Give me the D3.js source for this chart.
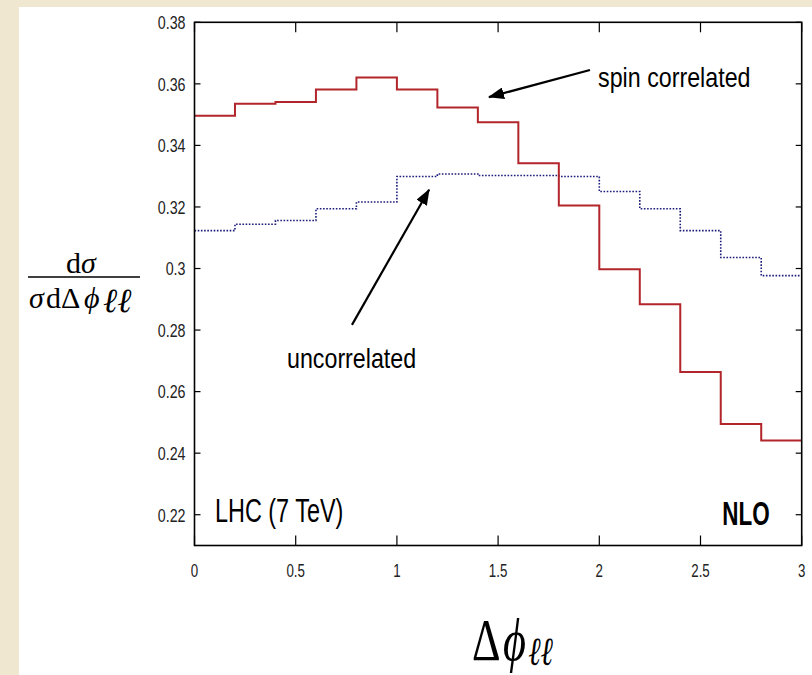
<!DOCTYPE html>
<html>
<head>
<meta charset="utf-8">
<script src="https://cdn.jsdelivr.net/npm/d3@7"></script>
<style>
  html, body { margin: 0; padding: 0; background: #efe7d0; }
  svg { display: block; }
</style>
</head>
<body>
<div id="chart"></div>
<script>

var width = 812,
height = 675;

// bin edges of dphi (rad)
var binEdges = [0, 0.2, 0.4, 0.6, 0.8, 1.0, 1.2, 1.4, 1.6, 1.8, 2.0, 2.2, 2.4, 2.6, 2.8, 3.0];

// normalised distributions, one value per bin
var spinCorrelated = [0.3496, 0.3535, 0.3541, 0.3582, 0.3621, 0.3582, 0.3523, 0.3475, 0.3342, 0.3205, 0.2998, 0.2884, 0.2664, 0.2495, 0.2441];
var uncorrelated = [0.3123, 0.3144, 0.3156, 0.3194, 0.3216, 0.3299, 0.3307, 0.3302, 0.3302, 0.3299, 0.3250, 0.3194, 0.3123, 0.3036, 0.2977];

var xTicks = [0, 0.5, 1, 1.5, 2, 2.5, 3];
var xTickLabels = ["0", "0.5", "1", "1.5", "2", "2.5", "3"];
var yTicks = [0.22, 0.24, 0.26, 0.28, 0.3, 0.32, 0.34, 0.36, 0.38];
var yTickLabels = ["0.22", "0.24", "0.26", "0.28", "0.3", "0.32", "0.34", "0.36", "0.38"];

var margin = {left: 194.5, right: 10.3, top: 22.3, bottom: 129.5};

var x = d3.scaleLinear().domain([0, 3]).range([margin.left, width - margin.right]);
var y = d3.scaleLinear().domain([0.21, 0.38]).range([height - margin.bottom, margin.top]);

var svg = d3.select("#chart").append("svg")
.attr("width", width)
.attr("height", height);

// white slide area (parchment shows on left & top)
svg.append("rect")
.attr("x", 19).attr("y", 7)
.attr("width", width - 19).attr("height", height - 7)
.attr("fill", "#ffffff");

// squeeze text horizontally, the original is a stretched picture
function squeeze(sel, k) {
	sel.each(function() {
		var L = this.getComputedTextLength();
		d3.select(this).attr("textLength", L * k).attr("lengthAdjust", "spacingAndGlyphs");
	});
}

var defs = svg.append("defs");
defs.append("marker")
.attr("id", "head")
.attr("viewBox", "0 0 16 12")
.attr("refX", 15).attr("refY", 6)
.attr("markerWidth", 16).attr("markerHeight", 12)
.attr("markerUnits", "userSpaceOnUse")
.attr("orient", "auto")
.append("path")
.attr("d", "M0,0 L16,6 L0,12 z")
.attr("fill", "#000");

var g = svg.append("g");

// step curves
function steps(values) {
	var pts = values.map(function(v, i) { return [binEdges[i], v]; });
	pts.push([binEdges[binEdges.length - 1], values[values.length - 1]]);
	return pts;
}

var line = d3.line()
.x(function(d) { return x(d[0]); })
.y(function(d) { return y(d[1]); })
.curve(d3.curveStepAfter);

g.append("path")
.datum(steps(uncorrelated))
.attr("d", line)
.attr("fill", "none")
.attr("stroke", "#1c1c7a")
.attr("stroke-width", 1.6)
.attr("stroke-dasharray", "1.6,1.6");

g.append("path")
.datum(steps(spinCorrelated))
.attr("d", line)
.attr("fill", "none")
.attr("stroke", "#b2262b")
.attr("stroke-width", 2);

// frame
g.append("rect")
.attr("x", x(0)).attr("y", y(0.38))
.attr("width", x(3) - x(0)).attr("height", y(0.21) - y(0.38))
.attr("fill", "none")
.attr("stroke", "#000")
.attr("stroke-width", 1.6);

// ticks, mirrored on all sides
g.selectAll(".xtb").data(xTicks).enter().append("line")
.attr("x1", function(d) { return x(d); }).attr("x2", function(d) { return x(d); })
.attr("y1", y(0.21)).attr("y2", y(0.21) - 10)
.attr("stroke", "#000").attr("stroke-width", 1.2);
g.selectAll(".xtt").data(xTicks).enter().append("line")
.attr("x1", function(d) { return x(d); }).attr("x2", function(d) { return x(d); })
.attr("y1", y(0.38)).attr("y2", y(0.38) + 10)
.attr("stroke", "#000").attr("stroke-width", 1.2);
g.selectAll(".ytl").data(yTicks).enter().append("line")
.attr("x1", x(0)).attr("x2", x(0) + 6)
.attr("y1", function(d) { return y(d); }).attr("y2", function(d) { return y(d); })
.attr("stroke", "#000").attr("stroke-width", 1.2);
g.selectAll(".ytr").data(yTicks).enter().append("line")
.attr("x1", x(3)).attr("x2", x(3) - 6)
.attr("y1", function(d) { return y(d); }).attr("y2", function(d) { return y(d); })
.attr("stroke", "#000").attr("stroke-width", 1.2);

// tick labels
g.selectAll(".xl").data(xTicks).enter().append("text")
.attr("x", function(d) { return x(d); })
.attr("y", y(0.21) + 31)
.attr("text-anchor", "middle")
.attr("font-family", "'Liberation Sans', Arial, sans-serif")
.attr("font-size", 19)
.attr("fill", "#222")
.text(function(d, i) { return xTickLabels[i]; })
.call(squeeze, 0.7);

g.selectAll(".yl").data(yTicks).enter().append("text")
.attr("x", x(0) - 9)
.attr("y", function(d) { return y(d); })
.attr("dy", "0.36em")
.attr("text-anchor", "end")
.attr("font-family", "'Liberation Sans', Arial, sans-serif")
.attr("font-size", 19)
.attr("fill", "#222")
.text(function(d, i) { return yTickLabels[i]; })
.call(squeeze, 0.75);

// annotations
var sans = "'Liberation Sans', Arial, sans-serif";

g.append("text")
.attr("x", x(1.994)).attr("y", y(0.359))
.attr("font-family", sans).attr("font-size", 28)
.text("spin correlated")
.call(squeeze, 0.83);

g.append("line")
.attr("x1", x(1.954)).attr("y1", y(0.3645))
.attr("x2", x(1.455)).attr("y2", y(0.3557))
.attr("stroke", "#000").attr("stroke-width", 2.2)
.attr("marker-end", "url(#head)");

g.append("text")
.attr("x", x(0.457)).attr("y", y(0.2678))
.attr("font-family", sans).attr("font-size", 28)
.text("uncorrelated")
.call(squeeze, 0.83);

g.append("line")
.attr("x1", x(0.778)).attr("y1", y(0.2817))
.attr("x2", x(1.159)).attr("y2", y(0.3256))
.attr("stroke", "#000").attr("stroke-width", 2.2)
.attr("marker-end", "url(#head)");

g.append("text")
.attr("x", x(0.101)).attr("y", y(0.2175))
.attr("font-family", sans).attr("font-size", 33)
.text("LHC (7 TeV)")
.call(squeeze, 0.71);

g.append("text")
.attr("x", x(2.842)).attr("y", y(0.2168))
.attr("text-anchor", "end")
.attr("font-family", sans).attr("font-size", 34)
.attr("font-weight", "bold")
.text("NLO")
.call(squeeze, 0.66);

// axis titles (TeX-ish)
var serif = "'Liberation Serif', 'DejaVu Serif', serif";

var yt = svg.append("g").attr("fill", "#000").attr("font-family", serif);
var num = yt.append("text")
.attr("x", 66).attr("y", 273)
.attr("font-size", 30);
num.append("tspan").text("d");
num.append("tspan").attr("font-style", "italic").text("σ");
yt.append("line")
.attr("x1", 28).attr("x2", 140)
.attr("y1", 277).attr("y2", 277)
.attr("stroke", "#000").attr("stroke-width", 1.5);
var den = yt.append("text")
.attr("y", 308)
.attr("font-size", 30);
den.append("tspan").attr("x", 29).attr("font-style", "italic").text("σ");
den.append("tspan").attr("x", 46).text("dΔ");
den.append("tspan").attr("x", 84).attr("font-style", "italic").text("ϕ");
den.append("tspan").attr("x", 103).attr("y", 312).attr("font-style", "italic").attr("font-size", 34).text("ℓℓ");

// big x title, squeezed horizontally like the source
var xt = svg.append("text")
.attr("transform", "translate(472,660) scale(0.74,1)")
.attr("font-family", serif)
.attr("font-size", 60)
.attr("fill", "#000");
xt.append("tspan").attr("x", 0).text("Δ");
xt.append("tspan").attr("x", 42).attr("font-style", "italic").text("ϕ");
xt.append("tspan").attr("x", 76).attr("y", 5).attr("font-style", "italic").attr("font-size", 40).text("ℓℓ");

</script>
</body>
</html>
